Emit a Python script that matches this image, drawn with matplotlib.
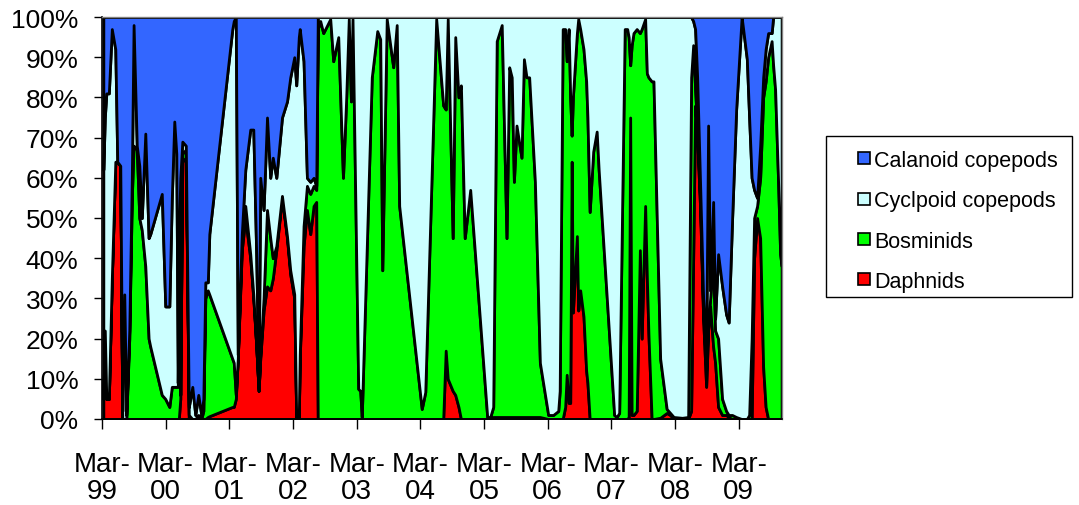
import matplotlib
matplotlib.use("Agg")
import matplotlib.pyplot as plt
from matplotlib.patches import Rectangle
from matplotlib.lines import Line2D

plt.rcParams['font.family'] = ['Liberation Sans', 'DejaVu Sans']

# sampling dates (decimal years) and % share of each group
years = [
    1999.183, 1999.206, 1999.230, 1999.269, 1999.316, 1999.371, 1999.402, 1999.449, 1999.481, 1999.512,
    1999.543, 1999.590, 1999.630, 1999.658, 1999.708, 1999.748, 1999.787, 1999.842, 1999.894, 1999.920,
    2000.101, 2000.156, 2000.219, 2000.258, 2000.297, 2000.329, 2000.352, 2000.368, 2000.391, 2000.423,
    2000.478, 2000.525, 2000.580, 2000.627, 2000.674, 2000.721, 2000.753, 2000.784, 2000.823, 2000.847,
    2001.208, 2001.231, 2001.263, 2001.294, 2001.357, 2001.412, 2001.490, 2001.538, 2001.585, 2001.621,
    2001.647, 2001.699, 2001.753, 2001.804, 2001.844, 2001.899, 2001.988, 2002.067, 2002.118, 2002.181,
    2002.212, 2002.252, 2002.267, 2002.327, 2002.380, 2002.432, 2002.484, 2002.526, 2002.550, 2002.589,
    2002.636, 2002.699, 2002.746, 2002.793, 2002.872, 2002.946, 2002.997, 2003.037, 2003.071, 2003.096,
    2003.186, 2003.217, 2003.241, 2003.398, 2003.484, 2003.531, 2003.563, 2003.633, 2003.735, 2003.790,
    2003.829, 2004.183, 2004.238, 2004.410, 2004.520, 2004.559, 2004.591, 2004.669, 2004.709, 2004.760,
    2004.798, 2004.858, 2004.944, 2005.211, 2005.258, 2005.305, 2005.360, 2005.439, 2005.514, 2005.556,
    2005.596, 2005.630, 2005.671, 2005.749, 2005.787, 2005.828, 2005.870, 2005.960, 2006.038, 2006.169,
    2006.247, 2006.326, 2006.349, 2006.396, 2006.435, 2006.459, 2006.490, 2006.514, 2006.537, 2006.556,
    2006.619, 2006.640, 2006.671, 2006.723, 2006.765, 2006.785, 2006.820, 2006.875, 2006.930, 2006.961,
    2007.205, 2007.244, 2007.283, 2007.370, 2007.409, 2007.432, 2007.456, 2007.479, 2007.508, 2007.558,
    2007.608, 2007.636, 2007.691, 2007.718, 2007.743, 2007.793, 2007.822, 2007.927, 2008.029, 2008.084,
    2008.139, 2008.272, 2008.366, 2008.413, 2008.445, 2008.476, 2008.508, 2008.555, 2008.602, 2008.649,
    2008.680, 2008.712, 2008.759, 2008.790, 2008.837, 2008.900, 2008.963, 2009.002, 2009.057, 2009.120,
    2009.206, 2009.230, 2009.288, 2009.324, 2009.363, 2009.402, 2009.449, 2009.497, 2009.544, 2009.583,
    2009.622, 2009.677, 2009.701, 2009.732, 2009.779, 2009.811, 2009.834,
]

daphnids = [
    5, 22, 5, 5, 35, 64, 64, 63, 0, 0,
    0, 0, 0, 0, 0, 0, 0, 0, 0, 0,
    0, 0, 0, 0, 0, 0, 0, 0, 5, 64,
    65, 0, 0, 0, 0, 0, 0, 0, 0.5, 0.7,
    3, 3, 5, 15, 42, 50, 40, 30, 18, 7,
    15, 27, 33, 32, 35, 42, 55, 45, 36, 30,
    0, 0, 15, 43, 52, 46, 53, 54, 0, 0,
    0, 0, 0, 0, 0, 0, 0, 0, 0, 0,
    0, 0, 0, 0, 0, 0, 0, 0, 0, 0,
    0, 0, 0, 0, 0, 17, 10, 7, 6, 3,
    0, 0, 0, 0, 0.3, 0.5, 0.5, 0.5, 0.5, 0.5,
    0.5, 0.5, 0.5, 0.5, 0.5, 0.5, 0.5, 0.5, 0.5, 0,
    0, 0, 0, 0, 3, 11, 4, 4, 64, 26.5,
    45.5, 27, 32, 25.5, 12, 9, 0, 0, 0, 0,
    0, 0, 0, 0, 0, 0.5, 75, 1, 1, 2,
    42, 20, 53, 35, 21, 0, 0, 0.3, 1.5, 1,
    0, 0, 0, 2, 40, 78, 70, 52, 25, 8,
    22, 28, 18, 14, 3, 1, 1, 0.5, 0, 0,
    0, 0, 0, 0, 0, 40, 50, 45, 13, 3,
    0, 0, 0, 0, 0, 0, 0,
]

bosminids = [
    0, 0, 0, 0, 0, 0, 0, 0, 0, 0,
    0, 20, 55, 68, 67, 50, 47, 38, 20, 18,
    6, 5, 3, 8, 8, 8, 8, 41, 1, 2,
    2, 1, 0, 0, 1, 0, 2, 30, 31.5, 30.3,
    12, 11, 1, 0, 2, 3, 1, 1, 0, 0,
    1, 3, 19, 13, 5, 1, 0.5, 0.5, 1, 1,
    0.5, 0.5, 1, 5, 6, 10, 5, 3, 97, 99,
    96, 98, 99.5, 89, 95, 60, 80, 99.5, 79, 99.5,
    7.5, 7, 0.5, 85, 96.5, 94.5, 37, 99.5, 87.5, 98,
    53, 2.5, 6.7, 99.5, 78, 60, 89.5, 38, 89, 77,
    83, 45, 57, 0.5, 0.2, 2.5, 93.5, 97.5, 44.5, 87,
    84.5, 58.5, 72.5, 64.5, 89, 84.5, 84.5, 58.5, 13.5, 1,
    1, 2, 7, 97, 94, 78, 93, 76, 6.5, 53.5,
    50.5, 72.5, 65, 66.5, 72, 66, 51.5, 66.5, 71.5, 62,
    1, 0.5, 1.5, 97, 97, 94.5, 13, 92, 95, 95,
    54, 77, 46.5, 51, 64, 84, 84, 14.7, 1, 0.5,
    0.5, 0.3, 0.5, 83, 53, 4, 2, 2, 2, 4,
    2, 2, 22, 8, 17, 4, 1, 0.5, 1, 0.5,
    0, 0, 0, 1, 20, 10, 3, 15, 67, 81,
    90, 94, 88, 82, 59, 41, 38,
]

cyclopoids = [
    57, 53, 76, 76, 62, 28, 0, 0, 2, 31,
    1, 2, 5, 30, 1, 13, 3, 33, 25, 28,
    50, 23, 25, 47, 66, 58, 1, 4, 54, 3,
    1, 2, 8, 1, 5, 1, 3, 4, 2, 15,
    82, 85, 94, 1, 2, 9, 31, 41, 22, 1,
    44, 22, 23, 15, 25, 17, 19.5, 33.5, 48, 59,
    82.5, 94.5, 81, 41, 2, 3, 2, 1, 3, 1,
    4, 2, 0.5, 11, 5, 40, 20, 0.5, 21, 0.5,
    92.5, 93, 99.5, 15, 3.5, 5.5, 63, 0.5, 12.5, 2,
    47, 97.5, 93.3, 0.5, 22, 23, 0.5, 55, 5, 20,
    17, 55, 43, 99.5, 99.5, 97, 6, 2, 55, 12.5,
    15, 41, 27, 35, 10.5, 15, 15, 41, 86, 99,
    99, 98, 93, 3, 3, 11, 3, 20, 29.5, 20,
    4, 0.5, 3, 8, 16, 25, 48.5, 33.5, 28.5, 38,
    99, 99.5, 98.5, 3, 3, 5, 12, 7, 4, 3,
    4, 3, 0.5, 14, 15, 16, 16, 85, 97.5, 98.5,
    99.5, 99.7, 99.5, 15, 6, 15, 13, 4, 3, 5,
    49, 2, 14, 3, 21, 28, 24, 23, 49, 76.5,
    100, 97, 89.5, 74, 40, 7, 2, 8, 5, 8,
    6, 2, 12, 18, 41, 59, 62,
]

calanoids = [
    38, 25, 19, 19, 3, 8, 36, 37, 98, 69,
    99, 78, 40, 2, 32, 37, 50, 29, 55, 54,
    44, 72, 72, 45, 26, 34, 91, 55, 40, 31,
    32, 97, 92, 99, 94, 99, 95, 66, 66, 54,
    3, 1, 0, 84, 54, 38, 28, 28, 60, 92,
    40, 48, 25, 40, 35, 40, 25, 21, 15, 10,
    17, 5, 3, 11, 40, 41, 40, 42, 0, 0,
    0, 0, 0, 0, 0, 0, 0, 0, 0, 0,
    0, 0, 0, 0, 0, 0, 0, 0, 0, 0,
    0, 0, 0, 0, 0, 0, 0, 0, 0, 0,
    0, 0, 0, 0, 0, 0, 0, 0, 0, 0,
    0, 0, 0, 0, 0, 0, 0, 0, 0, 0,
    0, 0, 0, 0, 0, 0, 0, 0, 0, 0,
    0, 0, 0, 0, 0, 0, 0, 0, 0, 0,
    0, 0, 0, 0, 0, 0, 0, 0, 0, 0,
    0, 0, 0, 0, 0, 0, 0, 0, 0, 0,
    0, 0, 0, 0, 1, 3, 15, 42, 70, 83,
    27, 68, 46, 75, 59, 67, 74, 76, 50, 23,
    0, 3, 10.5, 25, 40, 43, 45, 32, 15, 8,
    4, 4, 0, 0, 0, 0, 0,
]

labels = ['Daphnids', 'Bosminids', 'Cyclpoid copepods', 'Calanoid copepods']
colors = ['#ff0000', '#00ff00', '#ccffff', '#3366ff']

tick_years = [1999.162 + k for k in range(11)]
tick_labels = ['Mar-\n%02d' % ((99 + k) % 100) for k in range(11)]

fig = plt.figure(figsize=(10.79, 5.06), dpi=100)
ax = fig.add_axes([102 / 1079, 86 / 506, 680 / 1079, 402 / 506])

ax.stackplot(years, daphnids, bosminids, cyclopoids, calanoids,
             colors=colors, edgecolor='black', linewidth=2.0)

ax.set_xlim(1999.162, 2009.84)
ax.set_ylim(0, 100)
ax.set_yticks(range(0, 101, 10))
ax.set_yticklabels(['%d%%' % v for v in range(0, 101, 10)])
ax.set_xticks(tick_years)
ax.set_xticklabels(tick_labels, linespacing=1.05)
ax.tick_params(axis='y', direction='out', length=6, width=1, pad=11, labelsize=19)
ax.tick_params(axis='x', direction='out', length=7, width=1, pad=16, labelsize=20)

for side in ['left', 'bottom']:
    ax.spines[side].set_color('black')
    ax.spines[side].set_linewidth(1.2)
for side in ['top', 'right']:
    ax.spines[side].set_color('#808080')
    ax.spines[side].set_linewidth(1.0)

# legend: calanoid on top, as in the reference
handles = [Line2D([], [], linestyle='none', marker='s', markersize=8,
                  markerfacecolor=c, markeredgecolor='black', markeredgewidth=1.2)
           for c in colors[::-1]]
fig.legend(handles, labels[::-1], loc='upper left',
           bbox_to_anchor=(845 / 1079, 1 - 140 / 506), frameon=False,
           fontsize=15.5, handlelength=0.8, handletextpad=0.05,
           labelspacing=0.9, borderpad=0.0)
fig.patches.append(Rectangle((826 / 1079, 1 - 298 / 506), 246 / 1079, 161 / 506,
                             transform=fig.transFigure, fill=False,
                             edgecolor='black', linewidth=1.0))

fig.savefig('out.png', dpi=100)
